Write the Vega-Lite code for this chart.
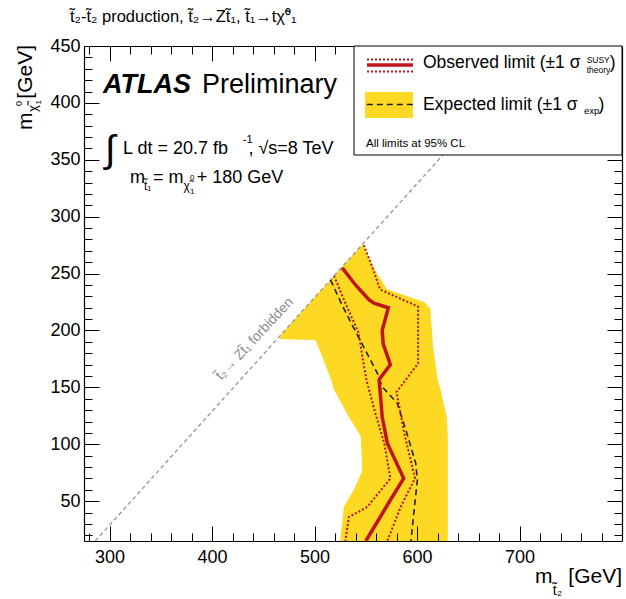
{
  "$schema": "https://vega.github.io/schema/vega-lite/v6.json",
  "width": 538,
  "height": 495,
  "autosize": {"type": "none"},
  "padding": {"left": 84, "top": 46, "right": 4, "bottom": 58},
  "background": "white",
  "config": {"view": {"stroke": null}, "font": "Liberation Sans"},
  "datasets": {
    "band": [
      {"y": 15, "xl": 525, "xr": 630},
      {"y": 45, "xl": 528.6, "xr": 630},
      {"y": 60, "xl": 538.4, "xr": 630},
      {"y": 77, "xl": 546.6, "xr": 630},
      {"y": 107, "xl": 545, "xr": 630},
      {"y": 124, "xl": 533.5, "xr": 629},
      {"y": 148, "xl": 519, "xr": 623},
      {"y": 157, "xl": 516, "xr": 620},
      {"y": 177, "xl": 507.5, "xr": 617},
      {"y": 191.5, "xl": 501, "xr": 615},
      {"y": 192.5, "xl": 466, "xr": 615},
      {"y": 196, "xl": 467, "xr": 615},
      {"y": 205, "xl": 476, "xr": 614},
      {"y": 219, "xl": 490, "xr": 613},
      {"y": 225, "xl": 496, "xr": 607},
      {"y": 236, "xl": 507, "xr": 571},
      {"y": 250, "xl": 521, "xr": 561},
      {"y": 262, "xl": 533, "xr": 554},
      {"y": 275, "xl": 546, "xr": 548}
    ],
    "obs": [
      {"x": 527, "y": 255}, {"x": 540, "y": 240}, {"x": 553, "y": 227}, {"x": 558, "y": 224},
      {"x": 572, "y": 220}, {"x": 566, "y": 200}, {"x": 567, "y": 188}, {"x": 574, "y": 170},
      {"x": 563, "y": 157}, {"x": 566, "y": 124}, {"x": 571, "y": 101}, {"x": 587, "y": 70},
      {"x": 574, "y": 51}, {"x": 550, "y": 15}
    ],
    "obsLo": [
      {"x": 519, "y": 248}, {"x": 531, "y": 222}, {"x": 543, "y": 198}, {"x": 547, "y": 175},
      {"x": 551, "y": 155}, {"x": 560, "y": 125}, {"x": 568, "y": 101}, {"x": 574, "y": 70},
      {"x": 551.5, "y": 45}, {"x": 533.5, "y": 36}, {"x": 530, "y": 15}
    ],
    "obsHi": [
      {"x": 548, "y": 275}, {"x": 555, "y": 259}, {"x": 564, "y": 236}, {"x": 601, "y": 221},
      {"x": 601, "y": 171}, {"x": 580, "y": 146}, {"x": 587, "y": 112}, {"x": 598, "y": 70},
      {"x": 584, "y": 45}, {"x": 571, "y": 15}
    ],
    "exp": [
      {"x": 515.6, "y": 244.4}, {"x": 527, "y": 222}, {"x": 538.4, "y": 201.8}, {"x": 550, "y": 182},
      {"x": 561.3, "y": 162.3}, {"x": 566, "y": 150.6}, {"x": 580.7, "y": 136}, {"x": 590, "y": 110},
      {"x": 598.7, "y": 83.3}, {"x": 600.3, "y": 68.6}, {"x": 594, "y": 15}
    ],
    "forbidden": [{"x": 286, "y": 15}, {"x": 721, "y": 450}]
  },
  "resolve": {"axis": {"x": "independent", "y": "independent"}},
  "layer": [
    {
      "data": {"name": "band"},
      "mark": {"type": "area", "orient": "horizontal", "color": "#fdd924", "interpolate": "linear"},
      "encoding": {
        "y": {"field": "y", "type": "quantitative", "scale": {"domain": [15, 450], "nice": false, "zero": false},
          "axis": {"orient": "left", "values": [50, 100, 150, 200, 250, 300, 350, 400, 450],
            "ticks": true, "tickSize": -15, "tickColor": "black", "tickWidth": 1,
            "domain": true, "domainColor": "black", "domainWidth": 1.2,
            "labelFont": "Liberation Sans", "labelFontSize": 18, "labelColor": "black", "labelPadding": 19,
            "labelFlush": false, "labelOverlap": false, "grid": false, "title": null, "zindex": 1}},
        "x": {"field": "xl", "type": "quantitative", "scale": {"domain": [275, 800], "nice": false, "zero": false},
          "axis": {"orient": "bottom", "values": [300, 400, 500, 600, 700],
            "ticks": true, "tickSize": -15, "tickColor": "black", "tickWidth": 1,
            "domain": true, "domainColor": "black", "domainWidth": 1.2,
            "labelFont": "Liberation Sans", "labelFontSize": 18, "labelColor": "black", "labelPadding": 22,
            "labelFlush": false, "labelOverlap": false, "grid": false, "title": null, "zindex": 1}},
        "x2": {"field": "xr"}
      }
    },
    {
      "data": {"name": "obs"},
      "mark": {"type": "point", "opacity": 0},
      "encoding": {
        "x": {"field": "x", "type": "quantitative",
          "axis": {"orient": "bottom", "values": [280, 320, 340, 360, 380, 420, 440, 460, 480, 520, 540, 560, 580, 620, 640, 660, 680, 720, 740, 760, 780],
            "ticks": true, "tickSize": -8, "tickColor": "black", "tickWidth": 1, "labels": false, "domain": false, "grid": false, "title": null, "zindex": 1}},
        "y": {"field": "y", "type": "quantitative",
          "axis": {"orient": "left", "values": [20, 30, 40, 60, 70, 80, 90, 110, 120, 130, 140, 160, 170, 180, 190, 210, 220, 230, 240, 260, 270, 280, 290, 310, 320, 330, 340, 360, 370, 380, 390, 410, 420, 430, 440],
            "ticks": true, "tickSize": -8, "tickColor": "black", "tickWidth": 1, "labels": false, "domain": false, "grid": false, "title": null, "zindex": 1}}
      }
    },
    {
      "data": {"name": "exp"},
      "mark": {"type": "point", "opacity": 0},
      "encoding": {
        "x": {"field": "x", "type": "quantitative",
          "axis": {"orient": "top", "values": [300, 400, 500, 600, 700],
            "ticks": true, "tickSize": -15, "tickColor": "black", "tickWidth": 1, "labels": false,
            "domain": true, "domainColor": "black", "domainWidth": 1.2, "grid": false, "title": null, "zindex": 0}},
        "y": {"field": "y", "type": "quantitative",
          "axis": {"orient": "right", "values": [50, 100, 150, 200, 250, 300, 350, 400],
            "ticks": true, "tickSize": -15, "tickColor": "black", "tickWidth": 1, "labels": false,
            "domain": true, "domainColor": "black", "domainWidth": 1.2, "grid": false, "title": null, "zindex": 0}}
      }
    },
    {
      "data": {"name": "obsLo"},
      "mark": {"type": "point", "opacity": 0},
      "encoding": {
        "x": {"field": "x", "type": "quantitative",
          "axis": {"orient": "top", "values": [280, 320, 340, 360, 380, 420, 440, 460, 480, 520, 540, 560, 580, 620, 640, 660, 680, 720, 740, 760, 780],
            "ticks": true, "tickSize": -8, "tickColor": "black", "tickWidth": 1, "labels": false, "domain": false, "grid": false, "title": null, "zindex": 0}},
        "y": {"field": "y", "type": "quantitative",
          "axis": {"orient": "right", "values": [20, 30, 40, 60, 70, 80, 90, 110, 120, 130, 140, 160, 170, 180, 190, 210, 220, 230, 240, 260, 270, 280, 290, 310, 320, 330, 340, 360, 370, 380, 390, 410, 420, 430, 440],
            "ticks": true, "tickSize": -8, "tickColor": "black", "tickWidth": 1, "labels": false, "domain": false, "grid": false, "title": null, "zindex": 0}}
      }
    },
    {
      "data": {"name": "forbidden"},
      "mark": {"type": "line", "color": "#9a9a9a", "strokeWidth": 1.4, "strokeDash": [4, 3]},
      "encoding": {
        "x": {"field": "x", "type": "quantitative", "axis": null},
        "y": {"field": "y", "type": "quantitative", "axis": null},
        "order": {"value": null}
      }
    },
    {
      "data": {"name": "exp"},
      "mark": {"type": "line", "color": "#222222", "strokeWidth": 1.6, "strokeDash": [6, 4]},
      "encoding": {
        "x": {"field": "x", "type": "quantitative", "axis": null},
        "y": {"field": "y", "type": "quantitative", "axis": null},
        "order": {"value": null}
      }
    },
    {
      "data": {"name": "obsLo"},
      "mark": {"type": "line", "color": "#b5121b", "strokeWidth": 2, "strokeDash": [2, 2]},
      "encoding": {
        "x": {"field": "x", "type": "quantitative", "axis": null},
        "y": {"field": "y", "type": "quantitative", "axis": null},
        "order": {"value": null}
      }
    },
    {
      "data": {"name": "obsHi"},
      "mark": {"type": "line", "color": "#b5121b", "strokeWidth": 2, "strokeDash": [2, 2]},
      "encoding": {
        "x": {"field": "x", "type": "quantitative", "axis": null},
        "y": {"field": "y", "type": "quantitative", "axis": null},
        "order": {"value": null}
      }
    },
    {
      "data": {"name": "obs"},
      "mark": {"type": "line", "color": "#c0141c", "strokeWidth": 3.5},
      "encoding": {
        "x": {"field": "x", "type": "quantitative", "axis": null},
        "y": {"field": "y", "type": "quantitative", "axis": null},
        "order": {"value": null}
      }
    },
    {
      "data": {"values": [{"k": "legend"}]},
      "mark": {"type": "rect", "fill": "white", "stroke": "black", "strokeWidth": 1},
      "encoding": {
        "x": {"datum": 538.5, "type": "quantitative", "axis": null},
        "x2": {"datum": 800},
        "y": {"datum": 354.2, "type": "quantitative", "axis": null},
        "y2": {"datum": 450}
      }
    },
    {
      "data": {"values": [{"k": "exp"}]},
      "mark": {"type": "rect", "fill": "#fdd924"},
      "encoding": {
        "x": {"datum": 549.2, "type": "quantitative", "axis": null},
        "x2": {"datum": 596},
        "y": {"datum": 386.7, "type": "quantitative", "axis": null},
        "y2": {"datum": 409.6}
      }
    },
    {
      "data": {"values": [{"k": "exp"}]},
      "mark": {"type": "rule", "color": "#222222", "strokeWidth": 1.6, "strokeDash": [6, 4]},
      "encoding": {
        "x": {"datum": 551, "type": "quantitative", "axis": null},
        "x2": {"datum": 596},
        "y": {"datum": 398.6, "type": "quantitative", "axis": null}
      }
    },
    {
      "data": {"values": [{"k": "obs"}]},
      "mark": {"type": "rule", "color": "#c0141c", "strokeWidth": 3.5},
      "encoding": {
        "x": {"datum": 551.2, "type": "quantitative", "axis": null},
        "x2": {"datum": 596},
        "y": {"datum": 433.4, "type": "quantitative", "axis": null}
      }
    },
    {
      "data": {"values": [{"k": "hi"}]},
      "mark": {"type": "rule", "color": "#b5121b", "strokeWidth": 2, "strokeDash": [2, 2]},
      "encoding": {
        "x": {"datum": 551.2, "type": "quantitative", "axis": null},
        "x2": {"datum": 596},
        "y": {"datum": 438.2, "type": "quantitative", "axis": null}
      }
    },
    {
      "data": {"values": [{"k": "lo"}]},
      "mark": {"type": "rule", "color": "#b5121b", "strokeWidth": 2, "strokeDash": [2, 2]},
      "encoding": {
        "x": {"datum": 551.2, "type": "quantitative", "axis": null},
        "x2": {"datum": 596},
        "y": {"datum": 427.7, "type": "quantitative", "axis": null}
      }
    },
    {"data": {"values": [{"t": "t\u0303\u2082-t\u0303\u2082 production, t\u0303\u2082\u2192Zt\u0303\u2081, t\u0303\u2081\u2192t\u03c7\u0303\u2070\u2081"}]},
     "mark": {"type": "text", "align": "left", "baseline": "alphabetic", "fontSize": 16.5, "color": "black"},
     "encoding": {"x": {"datum": 261.3, "type": "quantitative", "axis": null}, "y": {"datum": 471.1, "type": "quantitative", "axis": null}, "text": {"field": "t"}}},
    {"data": {"values": [{"t": "ATLAS"}]},
     "mark": {"type": "text", "align": "left", "baseline": "alphabetic", "fontSize": 27, "fontWeight": "bold", "fontStyle": "italic", "color": "black"},
     "encoding": {"x": {"datum": 293.5, "type": "quantitative", "axis": null}, "y": {"datum": 408.7, "type": "quantitative", "axis": null}, "text": {"field": "t"}}},
    {"data": {"values": [{"t": "Preliminary"}]},
     "mark": {"type": "text", "align": "left", "baseline": "alphabetic", "fontSize": 27, "color": "black"},
     "encoding": {"x": {"datum": 390.1, "type": "quantitative", "axis": null}, "y": {"datum": 408.7, "type": "quantitative", "axis": null}, "text": {"field": "t"}}},
    {"data": {"values": [{"t": "\u222b"}]},
     "mark": {"type": "text", "align": "left", "baseline": "alphabetic", "fontSize": 38, "color": "black"},
     "encoding": {"x": {"datum": 295.5, "type": "quantitative", "axis": null}, "y": {"datum": 348.1, "type": "quantitative", "axis": null}, "text": {"field": "t"}}},
    {"data": {"values": [{"t": "L dt = 20.7 fb"}]},
     "mark": {"type": "text", "align": "left", "baseline": "alphabetic", "fontSize": 18, "color": "black"},
     "encoding": {"x": {"datum": 313.1, "type": "quantitative", "axis": null}, "y": {"datum": 355.1, "type": "quantitative", "axis": null}, "text": {"field": "t"}}},
    {"data": {"values": [{"t": "-1"}]},
     "mark": {"type": "text", "align": "left", "baseline": "alphabetic", "fontSize": 11, "color": "black"},
     "encoding": {"x": {"datum": 430, "type": "quantitative", "axis": null}, "y": {"datum": 364.8, "type": "quantitative", "axis": null}, "text": {"field": "t"}}},
    {"data": {"values": [{"t": ", \u221as=8 TeV"}]},
     "mark": {"type": "text", "align": "left", "baseline": "alphabetic", "fontSize": 18, "color": "black"},
     "encoding": {"x": {"datum": 435.5, "type": "quantitative", "axis": null}, "y": {"datum": 355.1, "type": "quantitative", "axis": null}, "text": {"field": "t"}}},
    {"data": {"values": [{"t": "m"}]},
     "mark": {"type": "text", "align": "left", "baseline": "alphabetic", "fontSize": 18, "color": "black"},
     "encoding": {"x": {"datum": 319.9, "type": "quantitative", "axis": null}, "y": {"datum": 329.6, "type": "quantitative", "axis": null}, "text": {"field": "t"}}},
    {"data": {"values": [{"t": "t\u0303\u2081"}]},
     "mark": {"type": "text", "align": "left", "baseline": "alphabetic", "fontSize": 12, "color": "black"},
     "encoding": {"x": {"datum": 333.5, "type": "quantitative", "axis": null}, "y": {"datum": 323.5, "type": "quantitative", "axis": null}, "text": {"field": "t"}}},
    {"data": {"values": [{"t": "= m"}]},
     "mark": {"type": "text", "align": "left", "baseline": "alphabetic", "fontSize": 18, "color": "black"},
     "encoding": {"x": {"datum": 342.3, "type": "quantitative", "axis": null}, "y": {"datum": 329.6, "type": "quantitative", "axis": null}, "text": {"field": "t"}}},
    {"data": {"values": [{"t": "\u03c7\u0303"}]},
     "mark": {"type": "text", "align": "left", "baseline": "alphabetic", "fontSize": 12, "color": "black"},
     "encoding": {"x": {"datum": 372, "type": "quantitative", "axis": null}, "y": {"datum": 323.5, "type": "quantitative", "axis": null}, "text": {"field": "t"}}},
    {"data": {"values": [{"t": "1"}]},
     "mark": {"type": "text", "align": "left", "baseline": "alphabetic", "fontSize": 8, "color": "black"},
     "encoding": {"x": {"datum": 378.5, "type": "quantitative", "axis": null}, "y": {"datum": 320, "type": "quantitative", "axis": null}, "text": {"field": "t"}}},
    {"data": {"values": [{"t": "0"}]},
     "mark": {"type": "text", "align": "left", "baseline": "alphabetic", "fontSize": 8, "color": "black"},
     "encoding": {"x": {"datum": 378.5, "type": "quantitative", "axis": null}, "y": {"datum": 332, "type": "quantitative", "axis": null}, "text": {"field": "t"}}},
    {"data": {"values": [{"t": "+ 180 GeV"}]},
     "mark": {"type": "text", "align": "left", "baseline": "alphabetic", "fontSize": 18, "color": "black"},
     "encoding": {"x": {"datum": 385, "type": "quantitative", "axis": null}, "y": {"datum": 329.6, "type": "quantitative", "axis": null}, "text": {"field": "t"}}},
    {"data": {"values": [{"t": "Observed limit (\u00b11 \u03c3"}]},
     "mark": {"type": "text", "align": "left", "baseline": "alphabetic", "fontSize": 17.5, "color": "black"},
     "encoding": {"x": {"datum": 605.8, "type": "quantitative", "axis": null}, "y": {"datum": 430.7, "type": "quantitative", "axis": null}, "text": {"field": "t"}}},
    {"data": {"values": [{"t": "SUSY"}]},
     "mark": {"type": "text", "align": "left", "baseline": "alphabetic", "fontSize": 8.5, "color": "black"},
     "encoding": {"x": {"datum": 765.5, "type": "quantitative", "axis": null}, "y": {"datum": 435.1, "type": "quantitative", "axis": null}, "text": {"field": "t"}}},
    {"data": {"values": [{"t": "theory"}]},
     "mark": {"type": "text", "align": "left", "baseline": "alphabetic", "fontSize": 8.5, "color": "black"},
     "encoding": {"x": {"datum": 765.5, "type": "quantitative", "axis": null}, "y": {"datum": 426.3, "type": "quantitative", "axis": null}, "text": {"field": "t"}}},
    {"data": {"values": [{"t": ")"}]},
     "mark": {"type": "text", "align": "left", "baseline": "alphabetic", "fontSize": 17.5, "color": "black"},
     "encoding": {"x": {"datum": 788, "type": "quantitative", "axis": null}, "y": {"datum": 430.7, "type": "quantitative", "axis": null}, "text": {"field": "t"}}},
    {"data": {"values": [{"t": "Expected limit (\u00b11 \u03c3"}]},
     "mark": {"type": "text", "align": "left", "baseline": "alphabetic", "fontSize": 17.5, "color": "black"},
     "encoding": {"x": {"datum": 605.8, "type": "quantitative", "axis": null}, "y": {"datum": 393.8, "type": "quantitative", "axis": null}, "text": {"field": "t"}}},
    {"data": {"values": [{"t": "exp"}]},
     "mark": {"type": "text", "align": "left", "baseline": "alphabetic", "fontSize": 9.5, "color": "black"},
     "encoding": {"x": {"datum": 763, "type": "quantitative", "axis": null}, "y": {"datum": 390.2, "type": "quantitative", "axis": null}, "text": {"field": "t"}}},
    {"data": {"values": [{"t": ")"}]},
     "mark": {"type": "text", "align": "left", "baseline": "alphabetic", "fontSize": 17.5, "color": "black"},
     "encoding": {"x": {"datum": 777, "type": "quantitative", "axis": null}, "y": {"datum": 393.8, "type": "quantitative", "axis": null}, "text": {"field": "t"}}},
    {"data": {"values": [{"t": "All limits at 95% CL"}]},
     "mark": {"type": "text", "align": "left", "baseline": "alphabetic", "fontSize": 11.5, "color": "black"},
     "encoding": {"x": {"datum": 550.2, "type": "quantitative", "axis": null}, "y": {"datum": 361.3, "type": "quantitative", "axis": null}, "text": {"field": "t"}}},
    {"data": {"values": [{"t": "m"}]},
     "mark": {"type": "text", "align": "left", "baseline": "alphabetic", "fontSize": 21, "color": "black"},
     "encoding": {"x": {"datum": 715.1, "type": "quantitative", "axis": null}, "y": {"datum": -21.9, "type": "quantitative", "axis": null}, "text": {"field": "t"}}},
    {"data": {"values": [{"t": "t\u0303\u2082"}]},
     "mark": {"type": "text", "align": "left", "baseline": "alphabetic", "fontSize": 14, "color": "black"},
     "encoding": {"x": {"datum": 732.5, "type": "quantitative", "axis": null}, "y": {"datum": -32.5, "type": "quantitative", "axis": null}, "text": {"field": "t"}}},
    {"data": {"values": [{"t": "[GeV]"}]},
     "mark": {"type": "text", "align": "right", "baseline": "alphabetic", "fontSize": 21, "color": "black"},
     "encoding": {"x": {"datum": 800, "type": "quantitative", "axis": null}, "y": {"datum": -21.9, "type": "quantitative", "axis": null}, "text": {"field": "t"}}},
    {"data": {"values": [{"t": "m"}]},
     "mark": {"type": "text", "align": "left", "baseline": "alphabetic", "fontSize": 21, "angle": 270, "color": "black"},
     "encoding": {"x": {"datum": 224.3, "type": "quantitative", "axis": null}, "y": {"datum": 376.2, "type": "quantitative", "axis": null}, "text": {"field": "t"}}},
    {"data": {"values": [{"t": "\u03c7\u0303"}]},
     "mark": {"type": "text", "align": "left", "baseline": "alphabetic", "fontSize": 13, "angle": 270, "color": "black"},
     "encoding": {"x": {"datum": 229.1, "type": "quantitative", "axis": null}, "y": {"datum": 392, "type": "quantitative", "axis": null}, "text": {"field": "t"}}},
    {"data": {"values": [{"t": "1"}]},
     "mark": {"type": "text", "align": "left", "baseline": "alphabetic", "fontSize": 8, "angle": 270, "color": "black"},
     "encoding": {"x": {"datum": 233, "type": "quantitative", "axis": null}, "y": {"datum": 398.6, "type": "quantitative", "axis": null}, "text": {"field": "t"}}},
    {"data": {"values": [{"t": "0"}]},
     "mark": {"type": "text", "align": "left", "baseline": "alphabetic", "fontSize": 9, "angle": 270, "color": "black"},
     "encoding": {"x": {"datum": 214.5, "type": "quantitative", "axis": null}, "y": {"datum": 397.3, "type": "quantitative", "axis": null}, "text": {"field": "t"}}},
    {"data": {"values": [{"t": "[GeV]"}]},
     "mark": {"type": "text", "align": "right", "baseline": "alphabetic", "fontSize": 21, "angle": 270, "color": "black"},
     "encoding": {"x": {"datum": 224.3, "type": "quantitative", "axis": null}, "y": {"datum": 450.9, "type": "quantitative", "axis": null}, "text": {"field": "t"}}},
    {"data": {"values": [{"t": "t\u0303\u2082\u2192 Zt\u0303\u2081 forbidden"}]},
     "mark": {"type": "text", "align": "left", "baseline": "alphabetic", "fontSize": 14, "angle": -47, "color": "#8c8c8c"},
     "encoding": {"x": {"datum": 409, "type": "quantitative", "axis": null}, "y": {"datum": 156, "type": "quantitative", "axis": null}, "text": {"field": "t"}}}
  ]
}
